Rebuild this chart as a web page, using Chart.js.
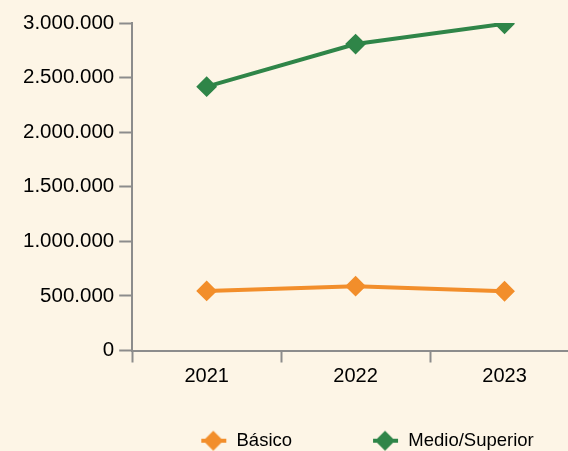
<!DOCTYPE html>
<html>
<head>
<meta charset="utf-8">
<script src="https://cdn.jsdelivr.net/npm/chart.js@4.4.1/dist/chart.umd.min.js"></script>
<style>
  html, body { margin: 0; padding: 0; background: #fdf5e6; overflow: hidden; }
</style>
</head>
<body>
<canvas id="myChart" width="590" height="460"></canvas>
<script>
// data
var years = ['2021', '2022', '2023'];
var basico = [546000, 589000, 543000];
var medioSuperior = [2417000, 2807000, 2993000];
var seriesNames = ['Básico', 'Medio/Superior'];
var yTickValues = [0, 500000, 1000000, 1500000, 2000000, 2500000, 3000000];

var orange = '#f28e2b';
var green = '#2f8548';
var axisGrey = '#8c8c8c';
var fontFamily = 'Arial, "Liberation Sans", sans-serif';

// legend box is wider than the marker, the marker sits near its right end
var markerBox = 66;
var markerCenter = 52;
var legendShift = 48;

// legend marker: short line with a diamond on it
function legendMarker(color) {
    var c = document.createElement('canvas');
    c.width = markerBox;
    c.height = 22;
    var ctx = c.getContext('2d');
    ctx.strokeStyle = color;
    ctx.fillStyle = color;
    ctx.lineWidth = 4;
    ctx.beginPath();
    ctx.moveTo(markerCenter - 12, 11);
    ctx.lineTo(markerCenter + 13, 11);
    ctx.stroke();
    ctx.beginPath();
    ctx.moveTo(markerCenter - 10, 11);
    ctx.lineTo(markerCenter, 1);
    ctx.lineTo(markerCenter + 10, 11);
    ctx.lineTo(markerCenter, 21);
    ctx.closePath();
    ctx.fill();
    return c;
}

function thousands(v) {
    return v.toString().replace(/\B(?=(\d{3})+(?!\d))/g, '.');
}

// move the legend sideways to where the original has it
var legendOffset = {
    id: 'legendOffset',
    afterLayout: function (chart) {
        chart.legend.left += legendShift;
        chart.legend.right += legendShift;
    }
};

var data = {
    labels: years,
    datasets: [
        {
            label: seriesNames[0],
            data: basico,
            borderColor: orange,
            backgroundColor: orange,
            borderWidth: 4,
            pointStyle: 'rectRot',
            pointRadius: 9,
            pointBorderWidth: 2,
            pointBackgroundColor: orange,
            pointBorderColor: orange,
            marker: legendMarker(orange)
        },
        {
            label: seriesNames[1],
            data: medioSuperior,
            borderColor: green,
            backgroundColor: green,
            borderWidth: 4,
            pointStyle: 'rectRot',
            pointRadius: 9,
            pointBorderWidth: 2,
            pointBackgroundColor: green,
            pointBorderColor: green,
            marker: legendMarker(green)
        }
    ]
};

var options = {
    responsive: false,
    animation: false,
    layout: {
        padding: { left: 18, right: 9, top: 23, bottom: 0 }
    },
    plugins: {
        tooltip: { enabled: false },
        legend: {
            position: 'bottom',
            labels: {
                usePointStyle: true,
                pointStyleWidth: markerBox,
                padding: 41,
                color: '#000',
                font: { family: fontFamily, size: 18.5 },
                generateLabels: function (chart) {
                    return chart.data.datasets.map(function (ds, i) {
                        return {
                            text: ds.label,
                            pointStyle: ds.marker,
                            fillStyle: ds.borderColor,
                            strokeStyle: ds.borderColor,
                            lineWidth: 0,
                            fontColor: '#000',
                            hidden: false,
                            datasetIndex: i
                        };
                    });
                }
            }
        }
    },
    scales: {
        x: {
            offset: true,
            grid: {
                offset: true,
                drawOnChartArea: false,
                tickLength: 12,
                tickColor: axisGrey,
                tickWidth: 2,
                color: axisGrey
            },
            border: { color: axisGrey, width: 2 },
            ticks: {
                padding: 2,
                color: '#000',
                font: { family: fontFamily, size: 20 }
            }
        },
        y: {
            min: 0,
            max: 3000000,
            afterBuildTicks: function (axis) {
                axis.ticks = yTickValues.map(function (v) { return { value: v }; });
            },
            grid: {
                drawOnChartArea: false,
                tickLength: 13,
                tickColor: axisGrey,
                tickWidth: 2,
                color: axisGrey
            },
            border: { color: axisGrey, width: 2 },
            ticks: {
                padding: 5,
                color: '#000',
                font: { family: fontFamily, size: 20.5 },
                callback: function (value) { return thousands(value); }
            }
        }
    }
};

var ctx = document.getElementById('myChart').getContext('2d');
var chart = new Chart(ctx, {
    type: 'line',
    data: data,
    options: options,
    plugins: [legendOffset]
});
</script>
</body>
</html>
